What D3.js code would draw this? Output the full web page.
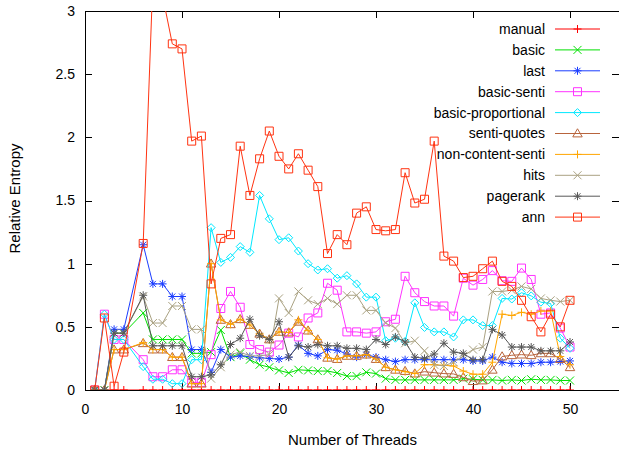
<!DOCTYPE html>
<html>
<head>
<meta charset="utf-8">
<script src="https://cdn.jsdelivr.net/npm/d3@7"></script>
<style>
  body { margin: 0; background: #fff; }
  svg { display: block; }
  text { font-family: "Liberation Sans", Arial, Helvetica, sans-serif; font-size: 14px; fill: #000; }
  .axis-title { font-size: 15px; }
</style>
</head>
<body>
<svg id="chart" width="619" height="451"></svg>
<script>
// Thread counts that were measured (no run at 5 threads)
const threads = [1, 2, 3, 4, 6, 7, 8, 9, 10,
  11, 12, 13, 14, 15, 16, 17, 18, 19, 20,
  21, 22, 23, 24, 25, 26, 27, 28, 29, 30,
  31, 32, 33, 34, 35, 36, 37, 38, 39, 40,
  41, 42, 43, 44, 45, 46, 47, 48, 49, 50];

const xTickValues = [0, 10, 20, 30, 40, 50];
const xTickLabels = ["0", "10", "20", "30", "40", "50"];
const yTickValues = [0, 0.5, 1, 1.5, 2, 2.5, 3];
const yTickLabels = ["0", "0.5", "1", "1.5", "2", "2.5", "3"];

// Relative entropy per method, one value per entry of `threads`
const manual = [0, 0, 0, 0, 0, 0, 0, 0, 0,
  0, 0, 0, 0, 0, 0, 0, 0, 0, 0,
  0, 0, 0, 0, 0, 0, 0, 0, 0, 0,
  0, 0, 0, 0, 0, 0, 0, 0, 0, 0,
  0, 0, 0, 0, 0, 0, 0, 0, 0, 0];
const basic = [0, 0, 0.45, 0.45, 0.61, 0.40, 0.40, 0.40, 0.40,
  0.29, 0.29, 0.30, 0.475, 0.26, 0.29, 0.24, 0.20, 0.18, 0.155,
  0.135, 0.16, 0.155, 0.15, 0.15, 0.135, 0.11, 0.11, 0.14, 0.13,
  0.09, 0.08, 0.08, 0.08, 0.08, 0.08, 0.08, 0.08, 0.09, 0.085,
  0.08, 0.08, 0.075, 0.08, 0.075, 0.085, 0.08, 0.08, 0.075, 0.075];
const last = [0, 0, 0.48, 0.48, 1.15, 0.84, 0.84, 0.74, 0.74,
  0.32, 0.32, 0.14, 0.32, 0.26, 0.27, 0.265, 0.255, 0.25, 0.245,
  0.26, 0.355, 0.29, 0.27, 0.32, 0.315, 0.285, 0.26, 0.28, 0.26,
  0.24, 0.225, 0.24, 0.24, 0.24, 0.24, 0.24, 0.24, 0.24, 0.23,
  0.23, 0.26, 0.22, 0.21, 0.21, 0.21, 0.22, 0.22, 0.225, 0.23];
const basicSenti = [0, 0.6, 0.40, 0.40, 0.24, 0.105, 0.105, 0.16, 0.16,
  0.06, 0.06, 0.28, 0.645, 0.78, 0.655, 0.36, 0.32, 0.30, 0.356,
  0.45, 0.42, 0.57, 0.61, 0.845, 0.79, 0.46, 0.46, 0.45, 0.46,
  0.54, 0.56, 0.90, 0.77, 0.70, 0.665, 0.665, 0.585, 0.885, 0.83,
  0.875, 0.945, 0.865, 0.86, 0.965, 0.875, 0.60, 0.61, 0.49, 0.34];
const basicProportional = [0, 0.6, 0.40, 0.40, 0.185, 0.085, 0.085, 0.05, 0.05,
  0.24, 0.24, 1.285, 1.01, 1.05, 1.135, 1.09, 1.54, 1.355, 1.19,
  1.205, 1.10, 1.0, 0.95, 0.96, 0.885, 0.905, 0.84, 0.735, 0.735,
  0.39, 0.41, 0.385, 0.69, 0.495, 0.46, 0.46, 0.42, 0.555, 0.555,
  0.51, 0.51, 0.725, 0.72, 0.77, 0.745, 0.695, 0.685, 0.41, 0.33];
const sentiQuotes = [0, 0, 0.32, 0.32, 0.37, 0.32, 0.32, 0.26, 0.26,
  0.05, 0.05, 1.0, 0.555, 0.52, 0.56, 0.515, 0.445, 0.40, 0.46,
  0.455, 0.54, 0.47, 0.40, 0.255, 0.245, 0.27, 0.27, 0.28, 0.245,
  0.18, 0.16, 0.15, 0.13, 0.145, 0.137, 0.13, 0.127, 0.10, 0.07,
  0.075, 0.16, 0.265, 0.275, 0.28, 0.275, 0.29, 0.29, 0.245, 0.18];
const nonContentSenti = [0, 0, 0.32, 0.32, 0.375, 0.32, 0.32, 0.26, 0.26,
  0.05, 0.05, 1.0, 0.555, 0.52, 0.56, 0.515, 0.445, 0.40, 0.46,
  0.455, 0.555, 0.47, 0.40, 0.255, 0.245, 0.27, 0.27, 0.28, 0.245,
  0.18, 0.16, 0.145, 0.13, 0.20, 0.20, 0.195, 0.19, 0.15, 0.125,
  0.125, 0.22, 0.60, 0.59, 0.615, 0.60, 0.625, 0.625, 0.265, 0.20];
const hits = [0, 0, 0.45, 0.45, 0.74, 0.53, 0.53, 0.665, 0.665,
  0.48, 0.48, 0.09, 0.18, 0.28, 0.30, 0.27, 0.27, 0.28, 0.725,
  0.61, 0.78, 0.71, 0.68, 0.725, 0.68, 0.75, 0.75, 0.63, 0.63,
  0.53, 0.49, 0.37, 0.39, 0.31, 0.20, 0.19, 0.22, 0.27, 0.32,
  0.34, 0.78, 0.78, 0.79, 0.82, 0.80, 0.725, 0.71, 0.70, 0.71];
const pagerank = [0, 0, 0.45, 0.45, 0.75, 0.35, 0.35, 0.35, 0.35,
  0.105, 0.105, 0.12, 0.2, 0.36, 0.41, 0.56, 0.43, 0.40, 0.54,
  0.26, 0.35, 0.34, 0.36, 0.35, 0.35, 0.33, 0.33, 0.32, 0.40,
  0.36, 0.42, 0.38, 0.26, 0.25, 0.285, 0.37, 0.30, 0.29, 0.24,
  0.24, 0.48, 0.435, 0.34, 0.34, 0.34, 0.31, 0.31, 0.31, 0.38];
const ann = [0, 0.57, 0.03, 0.30, 1.16, 3.25, 3.12, 2.74, 2.70,
  1.97, 2.01, 0.84, 1.20, 1.23, 1.93, 1.54, 1.83, 2.05, 1.85,
  1.75, 1.87, 1.74, 1.61, 1.08, 1.23, 1.15, 1.40, 1.45, 1.27,
  1.26, 1.27, 1.72, 1.48, 1.51, 1.97, 1.06, 1.02, 0.89, 0.90,
  0.96, 1.02, 0.86, 0.82, 0.71, 0.58, 0.46, 0.60, 0.50, 0.71];

const seriesNames = ["manual", "basic", "last", "basic-senti", "basic-proportional",
  "senti-quotes", "non-content-senti", "hits", "pagerank", "ann"];
const seriesValues = [manual, basic, last, basicSenti, basicProportional,
  sentiQuotes, nonContentSenti, hits, pagerank, ann];
const seriesColors = ["#ff0000", "#00e000", "#1a3cff", "#ff33ff", "#00e8ff",
  "#b8643c", "#ffa500", "#aaa282", "#585858", "#ff3311"];
const seriesMarkers = ["plus", "cross", "star", "square", "diamond",
  "triangle", "plus", "cross", "star", "square"];

// Point symbol outlines, centred on the origin
const markerPath = {
  plus: h => `M${-h},0H${h}M0,${-h}V${h}`,
  cross: h => `M${-h},${-h}L${h},${h}M${-h},${h}L${h},${-h}`,
  star: h => `M${-h},0H${h}M0,${-h}V${h}M${-h * 0.75},${-h * 0.75}L${h * 0.75},${h * 0.75}M${-h * 0.75},${h * 0.75}L${h * 0.75},${-h * 0.75}`,
  square: h => `M${-h},${-h}H${h}V${h}H${-h}Z`,
  diamond: h => `M0,${-h}L${h},0L0,${h}L${-h},0Z`,
  triangle: h => `M0,${-h * 1.05}L${h * 1.05},${h * 0.75}L${-h * 1.05},${h * 0.75}Z`
};
const markerSize = { plus: 4, cross: 4, star: 4, square: 4, diamond: 4, triangle: 4.5 };

const svg = d3.select("#chart");
const plot = { left: 85, right: 618.5, top: 11, bottom: 390 };

const x = d3.scaleLinear().domain([0, 55]).range([plot.left, plot.right]);
const y = d3.scaleLinear().domain([0, 3]).range([plot.bottom, plot.top]);

// Frame with inward ticks on all four sides
const axisG = svg.append("g").attr("shape-rendering", "crispEdges");
axisG.append("g")
  .attr("transform", `translate(0,${plot.bottom})`)
  .call(d3.axisBottom(x).tickValues(xTickValues).tickFormat((d, i) => xTickLabels[i])
    .tickSize(-7).tickSizeOuter(0).tickPadding(14));
axisG.append("g")
  .attr("transform", `translate(0,${plot.top})`)
  .call(d3.axisTop(x).tickValues(xTickValues).tickFormat("").tickSize(-7).tickSizeOuter(0));
axisG.append("g")
  .attr("transform", `translate(${plot.left},0)`)
  .call(d3.axisLeft(y).tickValues(yTickValues).tickFormat((d, i) => yTickLabels[i])
    .tickSize(-7).tickSizeOuter(0).tickPadding(10));
axisG.append("g")
  .attr("transform", `translate(${plot.right},0)`)
  .call(d3.axisRight(y).tickValues(yTickValues).tickFormat("").tickSize(-7).tickSizeOuter(0));
axisG.selectAll(".domain, .tick line").attr("stroke", "#000");
axisG.selectAll(".tick text").style("font-size", "14px").attr("fill", "#000");

// Data area, clipped to the frame
svg.append("defs").append("clipPath").attr("id", "plot-clip")
  .append("rect")
  .attr("x", plot.left).attr("y", plot.top)
  .attr("width", plot.right - plot.left).attr("height", plot.bottom - plot.top);

const dataG = svg.append("g").attr("clip-path", "url(#plot-clip)");
const line = d3.line().x(d => x(d.t)).y(d => y(d.v));

seriesNames.forEach((name, si) => {
  const pts = threads.map((t, i) => ({ t, v: seriesValues[si][i] }));
  const color = seriesColors[si];
  const mk = seriesMarkers[si];
  const g = dataG.append("g").attr("class", "series");
  g.append("path")
    .attr("d", line(pts))
    .attr("fill", "none")
    .attr("stroke", color)
    .attr("stroke-width", 1);
  g.selectAll("path.pt").data(pts).join("path")
    .attr("class", "pt")
    .attr("transform", d => `translate(${x(d.t)},${y(d.v)})`)
    .attr("d", markerPath[mk](markerSize[mk]))
    .attr("fill", "none")
    .attr("stroke", color)
    .attr("stroke-width", 1);
});

// Bottom border re-drawn over the zero-valued series
svg.append("line")
  .attr("x1", plot.left).attr("x2", plot.right)
  .attr("y1", y(0)).attr("y2", y(0))
  .attr("stroke", "#000").attr("stroke-opacity", 0.5)
  .attr("shape-rendering", "crispEdges");

// Legend
const legend = svg.append("g");
seriesNames.forEach((name, si) => {
  const ly = 29 + si * 20.9;
  const color = seriesColors[si];
  const mk = seriesMarkers[si];
  legend.append("text")
    .attr("x", 545).attr("y", ly).attr("dy", "0.35em")
    .attr("text-anchor", "end")
    .text(name);
  legend.append("line")
    .attr("x1", 555).attr("x2", 600).attr("y1", ly).attr("y2", ly)
    .attr("stroke", color).attr("stroke-width", 1);
  legend.append("path")
    .attr("transform", `translate(577.5,${ly})`)
    .attr("d", markerPath[mk](markerSize[mk]))
    .attr("fill", "none").attr("stroke", color).attr("stroke-width", 1);
});

// Axis titles
svg.append("text")
  .attr("class", "axis-title")
  .attr("x", 352.5).attr("y", 440).attr("dy", "0.35em")
  .attr("text-anchor", "middle")
  .text("Number of Threads");
svg.append("text")
  .attr("class", "axis-title")
  .attr("transform", `translate(15,${(plot.top + plot.bottom) / 2 - 2}) rotate(-90)`)
  .attr("dy", "0.35em")
  .attr("text-anchor", "middle")
  .text("Relative Entropy");
</script>
</body>
</html>
